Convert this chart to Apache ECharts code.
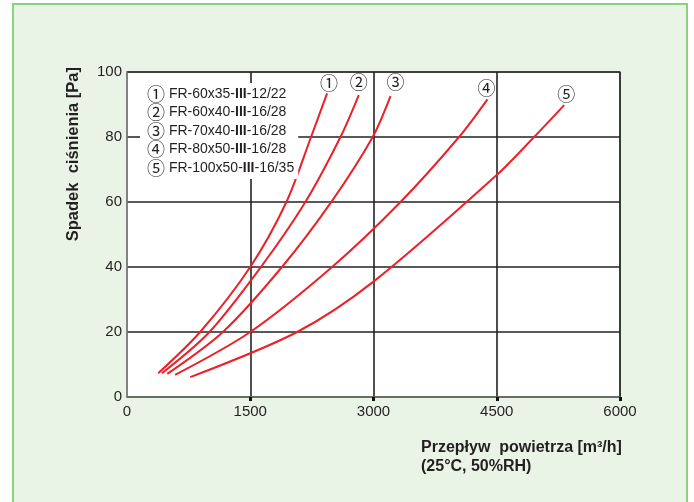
<!DOCTYPE html>
<html>
<head>
<meta charset="utf-8">
<script src="https://cdn.jsdelivr.net/npm/echarts@6/dist/echarts.min.js"></script>
<style>
html,body{margin:0;padding:0;background:#fff;width:694px;height:502px;overflow:hidden;}
#frame{position:absolute;left:12px;top:3px;width:672px;height:520px;border:2px solid #8fd07f;border-bottom:none;background:#e9f4e7;}
#chart{position:absolute;left:0;top:0;width:694px;height:502px;}
</style>
</head>
<body>
<div id="frame"></div>
<div id="chart"></div>
<script>
// Data: [airflow m3/h, pressure drop Pa]
const seriesNames = ['FR-60x35-III-12/22', 'FR-60x40-III-16/28', 'FR-70x40-III-16/28', 'FR-80x50-III-16/28', 'FR-100x50-III-16/35'];
const circled = ['①', '②', '③', '④', '⑤'];
const curve1 = [[380, 7.3], [890, 20], [1500, 40], [1940, 60], [2240, 80], [2435, 93.4]];
const curve2 = [[425, 7.3], [1004, 20], [1630, 40], [2171, 60], [2598, 80], [2821, 92.9]];
const curve3 = [[490, 7.1], [1167, 20], [1886, 40], [2500, 60.5], [2990, 80], [3207, 92.6]];
const curve4 = [[585, 6.8], [1500, 20], [2496, 40], [3329, 60], [4041, 80], [4387, 91.6]];
const curve5 = [[770, 6.1], [2070, 20], [3000, 35.5], [4500, 68.3], [4955, 80], [5321, 89.8]];
const xTicks = [0, 1500, 3000, 4500, 6000];
const yTicks = [0, 20, 40, 60, 80, 100];

const curves = [curve1, curve2, curve3, curve4, curve5];
const labelOffsets = [[2, -10], [0, -13], [5, -14], [-1, -11], [2, -11]];

const chart = echarts.init(document.getElementById('chart'), null, {renderer: 'canvas'});
const txt = '#231f20';
const red = '#ea2128';
const fam = '"Liberation Sans", Arial, "Noto Sans CJK JP", sans-serif';
const circFam = '"Noto Sans CJK JP", "DejaVu Sans", sans-serif';

const option = {
  animation: false,
  backgroundColor: 'transparent',
  grid: {
    left: 127, top: 72, width: 493, height: 325,
    show: true, backgroundColor: '#ffffff', borderColor: '#7a7a7a', borderWidth: 1.5
  },
  xAxis: {
    type: 'value', min: xTicks[0], max: xTicks[xTicks.length - 1], interval: 1500,
    axisLine: {show: true, lineStyle: {color: '#7a7a7a', width: 1.5}},
    axisTick: {show: true, customValues: xTicks.slice(1), length: 4, lineStyle: {color: '#111', width: 3}},
    axisLabel: {color: txt, fontSize: 15, fontFamily: fam, margin: 7, formatter: function (v) { return String(v); }},
    splitLine: {show: true, lineStyle: {color: '#222', width: 1.6}}
  },
  yAxis: {
    type: 'value', min: yTicks[0], max: yTicks[yTicks.length - 1], interval: 20,
    axisLine: {show: true, lineStyle: {color: '#7a7a7a', width: 1.5}},
    axisTick: {show: false},
    axisLabel: {color: txt, fontSize: 15, fontFamily: fam, margin: 5, formatter: function (v) { return String(v); }},
    splitLine: {show: true, lineStyle: {color: '#222', width: 1.6}}
  },
  legend: {
    orient: 'vertical', left: 140, top: 83,
    padding: [2, 4, 2, 2],
    backgroundColor: '#ffffff',
    icon: 'none', itemWidth: 0, itemHeight: 14, itemGap: 0.5,
    selectedMode: false,
    data: seriesNames,
    formatter: function (name) {
      const i = seriesNames.indexOf(name);
      const parts = name.split('III');
      return '{n|' + circled[i] + '} ' + parts[0] + '{b|III}' + parts[1];
    },
    textStyle: {
      color: txt, fontSize: 14, fontFamily: fam, lineHeight: 17,
      rich: {
        n: {fontSize: 18, fontFamily: circFam, color: txt, lineHeight: 17},
        b: {fontSize: 14, fontWeight: 'bold', fontFamily: fam, color: txt, lineHeight: 17}
      }
    }
  },
  graphic: [
    {
      type: 'text', x: 82, y: 67, rotation: Math.PI / 2,
      style: {
        text: 'Spadek  ciśnienia [Pa]', fill: txt,
        font: 'bold 16.5px "Liberation Sans", Arial, sans-serif',
        align: 'right', verticalAlign: 'bottom'
      }
    },
    {
      type: 'text', left: 421, top: 438,
      style: {
        text: 'Przepływ  powietrza [m³/h]\n(25°C, 50%RH)', fill: txt,
        font: 'bold 16px "Liberation Sans", Arial, sans-serif',
        lineHeight: 19
      }
    }
  ],
  series: curves.map(function (c, i) {
    return {
      name: seriesNames[i],
      type: 'line',
      data: c,
      smooth: 0.3,
      showSymbol: false,
      symbol: 'none',
      lineStyle: {color: red, width: 2},
      itemStyle: {color: red},
      emphasis: {disabled: true},
      endLabel: {
        show: true,
        formatter: circled[i],
        color: txt,
        fontSize: 18,
        fontFamily: circFam,
        distance: 0,
        align: 'center', verticalAlign: 'middle',
        offset: labelOffsets[i]
      }
    };
  })
};
chart.setOption(option);
</script>
</body>
</html>
